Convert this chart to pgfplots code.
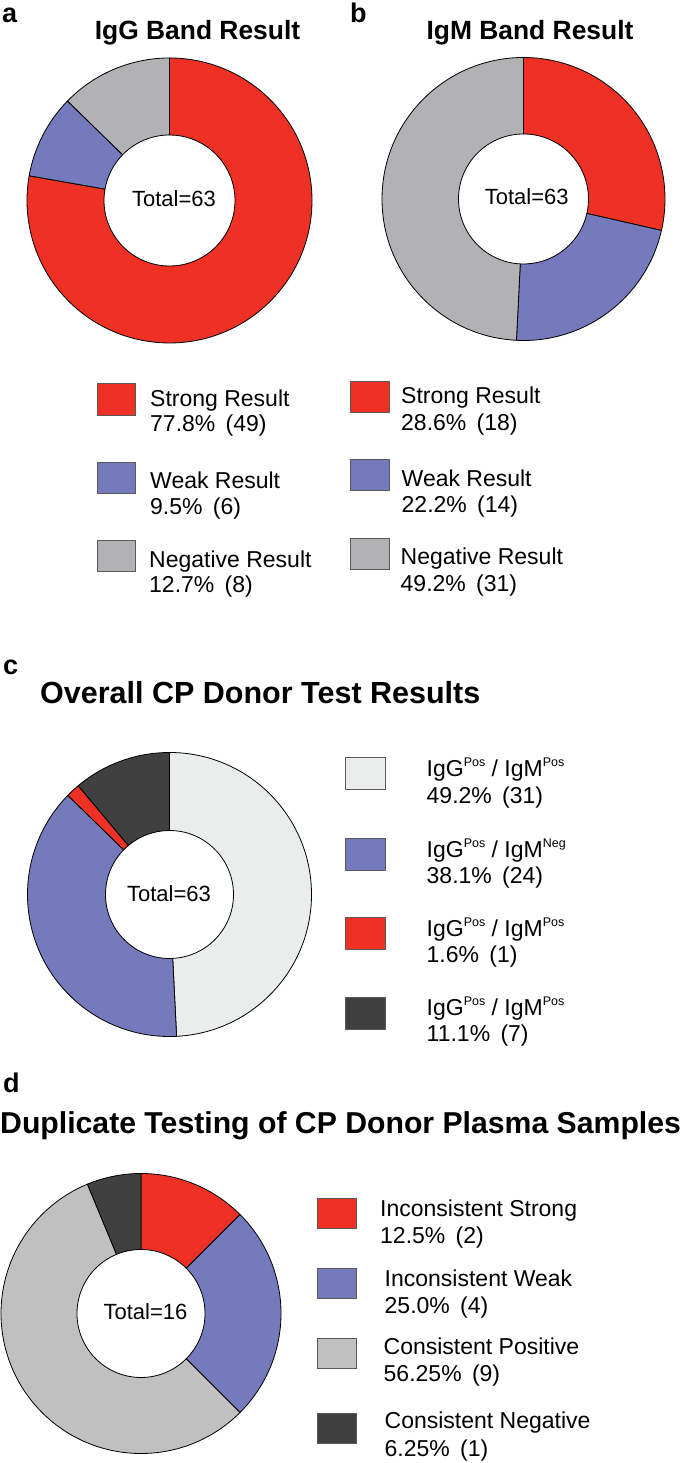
\documentclass[border=0pt]{standalone}
\usepackage{pgfplots}
\usepackage{pgfplotstable}
\pgfplotsset{compat=1.18}
\usepackage{fontspec}
\setmainfont{Liberation Sans}

\definecolor{cRed}{HTML}{EE3124}
\definecolor{cBlue}{HTML}{747ABB}
\definecolor{cGray}{HTML}{B2B2B4}
\definecolor{cGrayD}{HTML}{C0C0C0}
\definecolor{cLight}{HTML}{EBEDEC}
\definecolor{cDark}{HTML}{404041}

% count, colour, top of legend key (image px)
\pgfplotstableread{
count color legtop
49 cRed  383.8
6  cBlue 462.3
8  cGray 540.7
}\dataA
\pgfplotstableread{
count color legtop
18 cRed  381
14 cBlue 459
31 cGray 538
}\dataB
\pgfplotstableread{
count color legtop
31 cLight 757.7
24 cBlue  838.3
1  cRed   917.3
7  cDark  997.3
}\dataC
\pgfplotstableread{
count color legtop
2 cRed   1198
4 cBlue  1268
9 cGrayD 1338
1 cDark  1413
}\dataD

% #1 table, #2 cx, #3 cy (image px), #4 R, #5 r, #6 legend x, #7 legend w, #8 legend h
\newcommand\donut[8]{%
  \pgfplotstablegetrowsof{#1}\pgfmathtruncatemacro\lastrow{\pgfplotsretval-1}%
  \gdef\tot{0}%
  \foreach \i in {0,...,\lastrow}{\pgfplotstablegetelem{\i}{count}\of#1\pgfmathsetmacro\tmp{\tot+\pgfplotsretval}\xdef\tot{\tmp}}%
  \pgfmathsetmacro\diam{2*#4}%
  \begin{axis}[hide axis, scale only axis, width=\diam pt, height=\diam pt,
      xmin=-1,xmax=1,ymin=-1,ymax=1, clip=false, anchor=center,
      at={({#2pt},{(1463-#3)*1pt})}]
  \gdef\cum{0}%
  \foreach \i in {0,...,\lastrow}{%
    \pgfplotstablegetelem{\i}{count}\of#1\let\n\pgfplotsretval
    \pgfplotstablegetelem{\i}{color}\of#1\let\cc\pgfplotsretval
    \pgfplotstablegetelem{\i}{legtop}\of#1\let\tp\pgfplotsretval
    \pgfmathsetmacro\fa{\cum/\tot}%
    \pgfmathsetmacro\fb{(\cum+\n)/\tot}%
    \pgfmathsetmacro\sa{90-360*\fa}%
    \pgfmathsetmacro\ea{90-360*\fb}%
    \pgfmathsetmacro\xa{cos(\sa)}\pgfmathsetmacro\ya{sin(\sa)}%
    \pgfmathsetmacro\xb{#5/#4*cos(\ea)}\pgfmathsetmacro\yb{#5/#4*sin(\ea)}%
    \pgfmathsetmacro\bx{(#6-#2)/#4}\pgfmathsetmacro\by{(#3-\tp)/#4}%
    \pgfmathsetmacro\bxx{(#6+#7-#2)/#4}\pgfmathsetmacro\byy{(#3-\tp-#8)/#4}%
    \edef\temp{%
      \noexpand\filldraw[fill=\cc,draw=black,line width=0.8pt,line join=round]
        (axis cs:\xa,\ya) arc[start angle=\sa,end angle=\ea,radius=#4pt]
        -- (axis cs:\xb,\yb) arc[start angle=\ea,end angle=\sa,radius=#5pt] -- cycle;
      \noexpand\filldraw[fill=\cc,draw=black!65,line width=0.9pt]
        (axis cs:\bx,\by) rectangle (axis cs:\bxx,\byy);
    }\temp
    \pgfmathsetmacro\newcum{\cum+\n}\xdef\cum{\newcum}%
  }
  \end{axis}%
}

\newcommand\leg{\fontsize{23}{27}\selectfont}
\newcommand\T[3]{\node[anchor=base west,inner sep=0pt,font=\leg] at ({#1pt},{(1463-#2)*1pt}) {#3};}
\newcommand\C[3]{\node[anchor=base,inner sep=0pt,font=\fontsize{22}{26}\selectfont] at ({#1pt},{(1463-#2)*1pt}) {#3};}
\newcommand\Lab[3]{\node[anchor=base west,inner sep=0pt,font=\fontsize{27}{30}\selectfont\bfseries] at ({#1pt},{(1463-#2)*1pt}) {#3};}
\newcommand\sps[1]{\raisebox{10.5pt}{\fontsize{12.5}{12.5}\selectfont #1}}
\newcommand\gap{\hspace{0.45em}}

\begin{document}
\begin{tikzpicture}
\useasboundingbox (0,0) rectangle (685pt,1463pt);

\donut{\dataA}{169.5}{200.5}{142.5}{65.5}{97.3}{38.6}{31.2}
\donut{\dataB}{523.5}{199}{141.5}{65}{350}{39}{31.5}
\donut{\dataC}{169.5}{894.5}{142}{64}{345}{40.7}{31.8}
\donut{\dataD}{141}{1313.5}{140}{64}{317}{39.5}{30.5}

% panel labels
\Lab{2}{23}{a}
\Lab{350}{23}{b}
\Lab{3}{675}{c}
\Lab{3}{1093}{d}

% titles
\node[anchor=base,inner sep=0pt,font=\fontsize{26.4}{30}\selectfont\bfseries] at (197.5pt,{(1463-40)*1pt}) {IgG Band Result};
\node[anchor=base,inner sep=0pt,font=\fontsize{26.4}{30}\selectfont\bfseries] at (530pt,{(1463-40)*1pt}) {IgM Band Result};
\node[anchor=base west,inner sep=0pt,font=\fontsize{30.5}{34}\selectfont\bfseries] at (40pt,{(1463-704)*1pt}) {Overall CP Donor Test Results};
\node[anchor=base west,inner sep=0pt,font=\fontsize{30.2}{34}\selectfont\bfseries] at (0pt,{(1463-1134)*1pt}) {Duplicate Testing of CP Donor Plasma Samples};

% totals
\C{174}{206.5}{Total=63}
\C{526.7}{205}{Total=63}
\C{169}{901.7}{Total=63}
\C{145.5}{1320}{Total=16}

% legend a
\T{150}{406.5}{Strong Result}
\T{150}{432}{77.8\%\gap(49)}
\T{150}{488.3}{Weak Result}
\T{150}{515}{9.5\%\gap(6)}
\T{149}{567.7}{Negative Result}
\T{149}{593}{12.7\%\gap(8)}
% legend b
\T{401}{403.3}{Strong Result}
\T{401}{430.5}{28.6\%\gap(18)}
\T{401.5}{486.7}{Weak Result}
\T{401.5}{513}{22.2\%\gap(14)}
\T{400.5}{565}{Negative Result}
\T{400.5}{591.3}{49.2\%\gap(31)}
% legend c
\T{426.5}{777}{IgG\sps{Pos} / IgM\sps{Pos}}
\T{426.5}{803.3}{49.2\%\gap(31)}
\T{426.5}{857.7}{IgG\sps{Pos} / IgM\sps{Neg}}
\T{426.5}{884}{38.1\%\gap(24)}
\T{426.5}{937}{IgG\sps{Pos} / IgM\sps{Pos}}
\T{426.5}{963}{1.6\%\gap(1)}
\T{426.5}{1016}{IgG\sps{Pos} / IgM\sps{Pos}}
\T{426.5}{1041.5}{11.1\%\gap(7)}
% legend d
\T{380}{1216.7}{Inconsistent Strong}
\T{380}{1244}{12.5\%\gap(2)}
\T{384.5}{1286.7}{Inconsistent Weak}
\T{384.5}{1314}{25.0\%\gap(4)}
\T{383.5}{1355}{Consistent Positive}
\T{383.5}{1381.7}{56.25\%\gap(9)}
\T{384.5}{1428.3}{Consistent Negative}
\T{384.5}{1456.7}{6.25\%\gap(1)}
\end{tikzpicture}
\end{document}
